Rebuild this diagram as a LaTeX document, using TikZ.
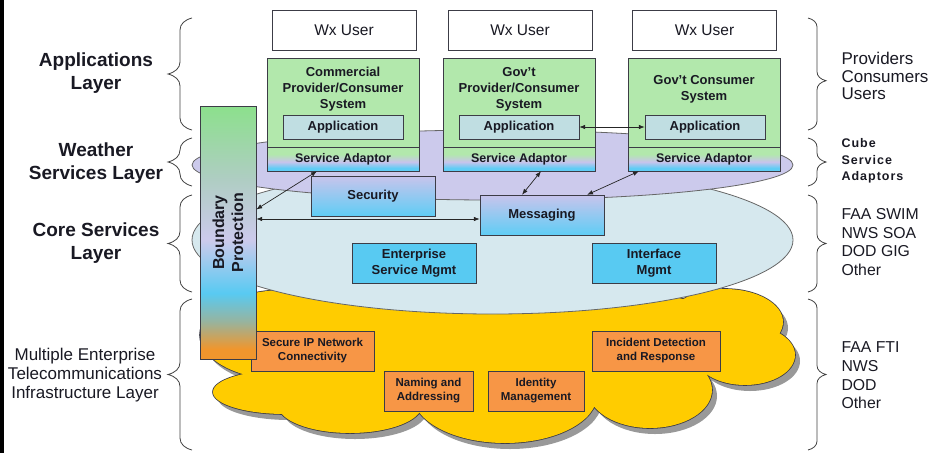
\documentclass[tikz,border=0pt]{standalone}
\usepackage{fontspec}
\setmainfont{Liberation Sans}
\newfontfamily\spacedfont[LetterSpace=8]{Liberation Sans}
\usetikzlibrary{arrows.meta,decorations.pathreplacing}

\definecolor{sysgreen}{RGB}{178,232,172}
\definecolor{appblue}{RGB}{192,222,226}
\definecolor{lavender}{RGB}{204,202,236}
\definecolor{coreblue}{RGB}{214,232,238}
\definecolor{boxblue}{RGB}{88,202,242}
\definecolor{boxorange}{RGB}{247,150,70}
\definecolor{cloudyellow}{RGB}{255,204,0}
\definecolor{edgegray}{RGB}{60,60,70}
\definecolor{txtcol}{RGB}{25,25,35}
\definecolor{bpgreen}{RGB}{140,224,140}
\definecolor{bpgray}{RGB}{175,205,195}
\definecolor{bpteal}{RGB}{150,180,160}
\definecolor{bporange}{RGB}{240,150,45}
\definecolor{adlav}{RGB}{200,196,236}
\definecolor{adblue}{RGB}{95,205,245}

% stops between 25bp and 75bp, as tikz fits that band to the path
\pgfdeclareverticalshading{bpshade}{100bp}{color(0bp)=(bporange); color(27bp)=(bporange);
  color(32.5bp)=(bpteal); color(38bp)=(boxblue); color(48.5bp)=(lavender);
  color(60.5bp)=(bpgray); color(75bp)=(bpgreen); color(100bp)=(bpgreen)}
\pgfdeclareverticalshading{adshade}{100bp}{color(0bp)=(adblue); color(31bp)=(adblue);
  color(44bp)=(adlav); color(60bp)=(sysgreen); color(100bp)=(sysgreen)}

% lobes of the infrastructure cloud
\newcommand{\cloudlobes}{%
  (285,335) ellipse [x radius=85pt, y radius=45pt]
  (285,392) ellipse [x radius=72pt, y radius=22pt]
  (350,405) ellipse [x radius=72pt, y radius=28pt]
  (505,395) ellipse [x radius=92pt, y radius=48pt]
  (650,390) ellipse [x radius=62pt, y radius=38pt]
  (745,355) ellipse [x radius=50pt, y radius=30pt]
  (725,322) ellipse [x radius=58pt, y radius=33pt]
  (500,340) ellipse [x radius=250pt, y radius=60pt]}

\tikzset{
  userbox/.style={draw=edgegray,fill=white,minimum width=144pt,minimum height=40pt,
    text=txtcol,font=\fontsize{15.5}{18}\selectfont},
  sysbox/.style={draw=edgegray,fill=sysgreen,minimum width=152pt,minimum height=89pt},
  systitle/.style={align=center,text=txtcol,font=\bfseries\fontsize{13}{16}\selectfont},
  appbox/.style={draw=edgegray,fill=appblue,minimum width=120pt,minimum height=24pt,
    text=txtcol,font=\bfseries\fontsize{13}{16}\selectfont},
  adaptor/.style={draw=edgegray,shading=adshade,minimum width=152pt,minimum height=24pt,
    text=txtcol,font=\bfseries\fontsize{12.5}{15}\selectfont},
  corebox/.style={draw=edgegray,minimum width=124pt,minimum height=40pt,align=center,
    text=txtcol,font=\bfseries\fontsize{13}{16}\selectfont},
  netbox/.style={draw=edgegray,fill=boxorange,minimum height=40pt,align=center,inner sep=1pt,
    text=txtcol,font=\bfseries\fontsize{11.5}{14}\selectfont},
  conn/.style={{Latex[length=6pt,width=4.5pt]}-{Latex[length=6pt,width=4.5pt]},line width=0.7pt,draw=black!85},
  lbrace/.style={decorate,decoration={brace,amplitude=12pt,transform={yscale=2}},draw=black!75,line width=0.8pt},
  rbrace/.style={decorate,decoration={brace,amplitude=9pt,transform={yscale=2}},draw=black!75,line width=0.8pt},
  layerlbl/.style={align=center,text=txtcol,font=\bfseries\fontsize{19}{23}\selectfont},
  sidelbl/.style={anchor=west,align=left,text=txtcol}
}

\begin{document}
\begin{tikzpicture}[x=1pt,y=-1pt]
  \useasboundingbox (0,0) rectangle (936,453);
  \fill[black] (0,0) rectangle (4,453);

  % infrastructure cloud with shadow
  \fill[black!40,shift={(5,6)}] \cloudlobes;
  \draw[edgegray,line width=1.6pt,fill=cloudyellow] \cloudlobes;
  \fill[cloudyellow] \cloudlobes;

  % core services and weather services layers
  \draw[black!60,line width=0.8pt,fill=coreblue] (492.5,240) ellipse [x radius=300.5pt, y radius=74pt];
  \draw[black!60,line width=0.8pt,fill=lavender] (492.5,165) ellipse [x radius=300.5pt, y radius=35pt];

  % telecommunications boxes
  \node[netbox,minimum width=123pt] (sipn) at (312.5,351) {Secure IP Network\\Connectivity};
  \node[netbox,minimum width=89pt] (naming) at (428.5,391) {Naming and\\Addressing};
  \node[netbox,minimum width=96pt] (ident) at (536,391) {Identity\\Management};
  \node[netbox,minimum width=128pt] (incident) at (656,351) {Incident Detection\\and Response};

  % core services boxes
  \node[corebox,top color=adlav,bottom color=adblue] (sec) at (373,196) {Security};
  \node[corebox,top color=adlav,bottom color=adblue] (msg) at (542,215) {Messaging};
  \node[corebox,fill=boxblue] (esm) at (414,263) {Enterprise\\Service Mgmt};
  \node[corebox,fill=boxblue] (ifm) at (654,263) {Interface\\Mgmt};

  % users and provider/consumer systems
  \node[userbox] (user1) at (344,30) {Wx User};
  \node[userbox] (user2) at (520,30) {Wx User};
  \node[userbox] (user3) at (704.5,30) {Wx User};

  \node[sysbox] (sys1) at (343,102.5) {};
  \node[sysbox] (sys2) at (519,102.5) {};
  \node[sysbox] (sys3) at (704,102.5) {};
  \node[systitle] (t1) at (343,89) {Commercial\\Provider/Consumer\\System};
  \node[systitle] (t2) at (519,89) {Gov't\\Provider/Consumer\\System};
  \node[systitle] (t3) at (704,89) {Gov't Consumer\\System};
  \node[appbox] (app1) at (343,127) {Application};
  \node[appbox] (app2) at (519,127) {Application};
  \node[appbox] (app3) at (705,127) {Application};
  \node[adaptor] (ad1) at (343,159) {Service Adaptor};
  \node[adaptor] (ad2) at (519,159) {Service Adaptor};
  \node[adaptor] (ad3) at (704,159) {Service Adaptor};

  % boundary protection
  \node[draw=edgegray,shading=bpshade,minimum width=56pt,minimum height=253pt] (bound) at (228,232.5) {};
  \node[rotate=90,align=center,text=txtcol,font=\bfseries\fontsize{16}{19}\selectfont] (boundtxt) at (bound.center) {Boundary\\Protection};

  % connections
  \draw[conn] ([xshift=-26pt]ad1.south) -- ([yshift=23pt]bound.east);
  \draw[conn] ([yshift=-4pt]msg.west -| bound.east) -- ([yshift=-4pt]msg.west);
  \draw[conn] ([xshift=22pt]ad2.south) -- ([xshift=-20pt]msg.north);
  \draw[conn] ([xshift=-65pt]ad3.south) -- ([xshift=45pt]msg.north);
  \draw[conn] (app2.east) -- (app3.west);

  % braces
  \draw[lbrace] (192,130) -- (192,18);
  \draw[lbrace] (192,186) -- (192,138);
  \draw[lbrace] (192,292) -- (192,195);
  \draw[lbrace] (192,450) -- (192,299);
  \draw[rbrace,decoration={aspect=0.56}] (808,18) -- (808,130);
  \draw[rbrace] (808,138) -- (808,186);
  \draw[rbrace] (808,195) -- (808,292);
  \draw[rbrace] (808,299) -- (808,450);

  % layer names
  \node[layerlbl] (applbl) at (96,73) {Applications\\Layer};
  \node[layerlbl] (wxlbl) at (96,163) {Weather\\Services Layer};
  \node[layerlbl] (corelbl) at (96,243.5) {Core Services\\Layer};
  \node[align=center,text=txtcol,font=\fontsize{17}{19}\selectfont] (infralbl) at (85,375) {Multiple Enterprise\\Telecommunications\\Infrastructure Layer};

  \node[sidelbl,font=\spacedfont\bfseries\fontsize{12.5}{16.5}\selectfont] (cubelbl) at (838,161) {Cube\\Service\\Adaptors};
  \node[sidelbl,font=\fontsize{17}{17.5}\selectfont] (usrlbl) at (838,76) {Providers\\Consumers\\Users};
  \node[sidelbl,font=\fontsize{15.8}{18.7}\selectfont] (swimlbl) at (838,242) {FAA SWIM\\NWS SOA\\DOD GIG\\Other};
  \node[sidelbl,font=\fontsize{15.8}{18.7}\selectfont] (ftilbl) at (838,375.5) {FAA FTI\\NWS\\DOD\\Other};
\end{tikzpicture}
\end{document}
